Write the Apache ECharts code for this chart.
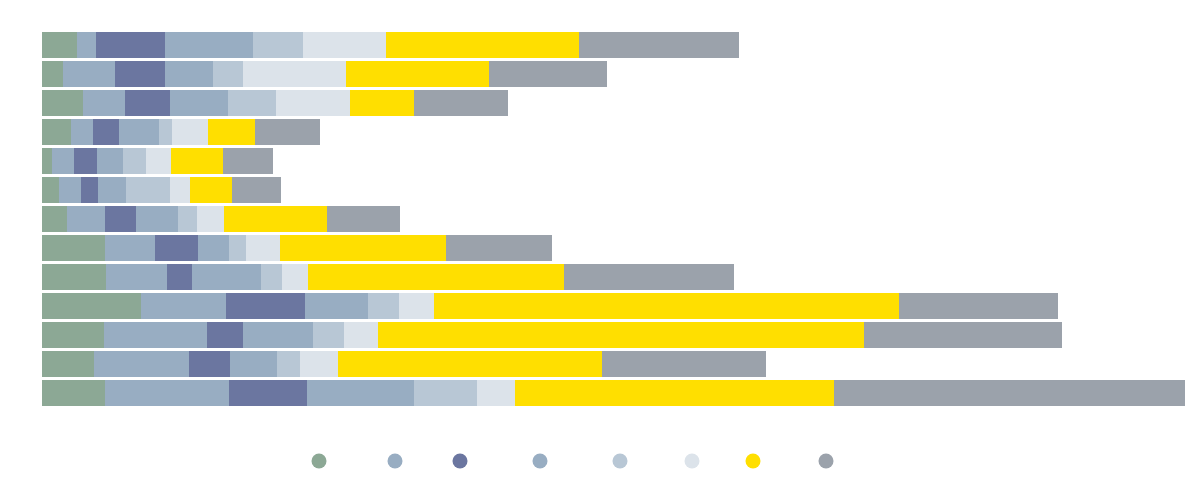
<!DOCTYPE html>
<html>
<head>
<meta charset="utf-8">
<script src="https://cdn.jsdelivr.net/npm/echarts@6/dist/echarts.min.js"></script>
<style>html,body{margin:0;padding:0;background:#fff}#c{width:1200px;height:500px}</style>
</head>
<body>
<div id="c"></div>
<script>
// Categories (top to bottom)
const categories = ['R1','R2','R3','R4','R5','R6','R7','R8','R9','R10','R11','R12','R13'];
const seriesNames = ['A','B','C','D','E','F','G','H'];
// Series values per category (estimated)
const s1 = [35, 21, 41, 29, 10, 17, 25, 63, 64, 99, 62, 52, 63];
const s2 = [19, 52, 42, 22, 22, 22, 38, 50, 61, 85, 103, 95, 124];
const s3 = [69, 50, 45, 26, 23, 17, 31, 43, 25, 79, 36, 41, 78];
const s4 = [88, 48, 58, 40, 26, 28, 42, 31, 69, 63, 70, 47, 107];
const s5 = [50, 30, 48, 13, 23, 44, 19, 17, 21, 31, 31, 23, 63];
const s6 = [83, 103, 74, 36, 25, 20, 27, 34, 26, 35, 34, 38, 38];
const s7 = [193, 143, 64, 47, 52, 42, 103, 166, 256, 465, 486, 264, 319];
const s8 = [160, 118, 94, 65, 50, 49, 73, 106, 170, 159, 198, 164, 351];
const allValues = [s1, s2, s3, s4, s5, s6, s7, s8];

const colors = ['#8ca895', '#98adc2', '#6b76a0', '#98adc2', '#b8c7d5', '#dce3ea', '#ffdf00', '#9ba2ab'];
// layout: legend icon centre x positions
const legendCenters = [319, 395, 460, 540, 620, 692, 753, 826];

const chart = echarts.init(document.getElementById('c'), null, {renderer: 'canvas'});

chart.setOption({
  animation: false,
  color: colors,
  grid: {left: 42, right: 15, top: 30.5, height: 377, containLabel: false},
  xAxis: {type: 'value', min: 0, max: 1143, show: false},
  yAxis: {type: 'category', data: categories, inverse: true, show: false},
  legend: seriesNames.map((name, i) => ({
    data: [name],
    left: legendCenters[i] - 7.5 - 5, top: 448.5,
    itemWidth: 15, itemHeight: 15, itemGap: 0,
    icon: 'circle',
    formatter: function () { return ''; }
  })),
  series: allValues.map((vals, i) => ({
    name: seriesNames[i],
    type: 'bar',
    stack: 'total',
    barWidth: 26,
    data: vals,
    itemStyle: {color: colors[i]}
  }))
});
</script>
</body>
</html>
